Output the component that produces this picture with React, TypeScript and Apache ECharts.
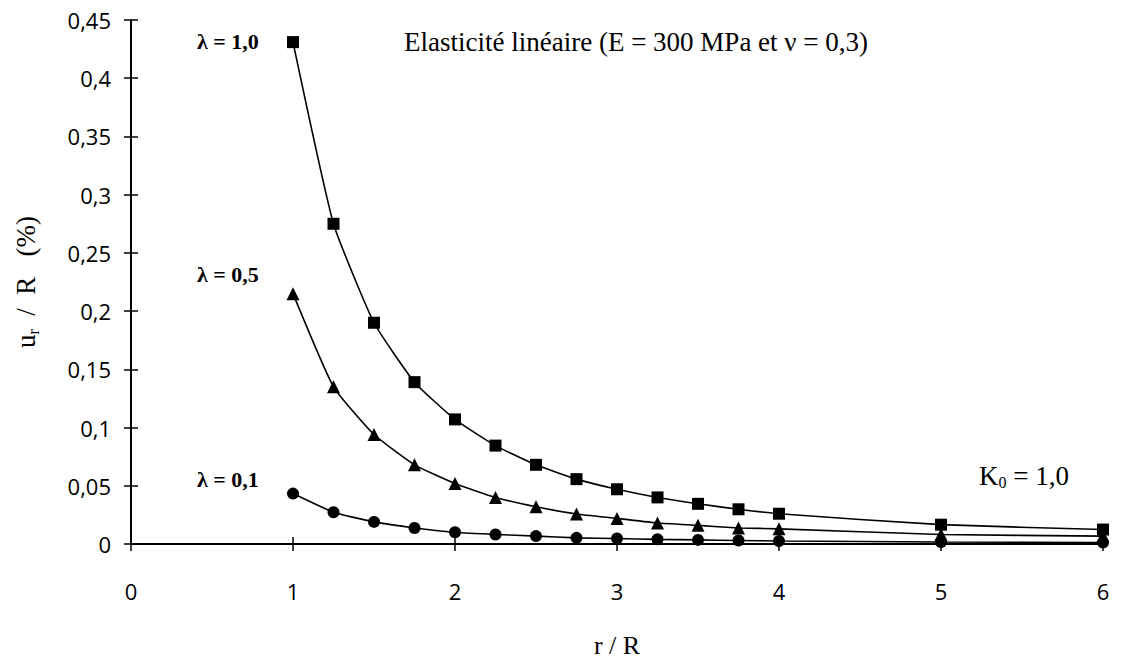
import React, { useEffect, useRef } from "react";
import * as echarts from "echarts";

const rValues = [1, 1.25, 1.5, 1.75, 2, 2.25, 2.5, 2.75, 3, 3.25, 3.5, 3.75, 4, 5, 6];
const lambda10 = [0.431, 0.275, 0.19, 0.139, 0.107, 0.0845, 0.068, 0.0557, 0.047, 0.04, 0.0345, 0.0298, 0.026, 0.0166, 0.0124];
const lambda05 = [0.215, 0.135, 0.094, 0.068, 0.052, 0.04, 0.032, 0.0258, 0.022, 0.018, 0.016, 0.0138, 0.013, 0.0082, 0.0068];
const lambda01 = [0.0433, 0.0273, 0.019, 0.0138, 0.0101, 0.0082, 0.0068, 0.0053, 0.0047, 0.004, 0.0035, 0.003, 0.0026, 0.0017, 0.0012];
const seriesNames = ["λ = 1,0", "λ = 0,5", "λ = 0,1"];
const titleText = "Elasticité linéaire (E = 300 MPa et ν = 0,3)";
const k0Text = "K";
const xAxisName = "r / R";

const serif = "'Liberation Serif', 'DejaVu Serif', serif";
const sans = "'Open Sans', 'DejaVu Sans', sans-serif";

export default function App() {
  const ref = useRef<HTMLDivElement>(null);
  useEffect(() => {
    if (!ref.current) return;
    const chart = echarts.init(ref.current, null, { renderer: "svg" });
    const mk = (arr: number[]) => rValues.map((r, i) => [r, arr[i]]);
    const fmt = (v: number) => String(Math.round(v * 100) / 100).replace(".", ",");
    const common = {
      type: "line",
      smooth: 0.15,
      lineStyle: { color: "#000", width: 1.6 },
      itemStyle: { color: "#000" },
      silent: true,
    };
    const lamStyle = { fontFamily: serif, fontSize: 22, fontWeight: "bold", fill: "#000" };
    chart.setOption({
      animation: false,
      backgroundColor: "#fff",
      grid: { left: 131, right: 18, top: 20, bottom: 110, containLabel: false },
      xAxis: [
        {
          type: "value",
          min: 0,
          max: 6,
          interval: 1,
          name: xAxisName,
          nameLocation: "middle",
          nameGap: 88,
          nameTextStyle: { fontFamily: serif, fontSize: 26, color: "#000" },
          axisLine: { show: true, onZero: false, lineStyle: { color: "#000", width: 2 } },
          axisTick: { show: true, length: 7, lineStyle: { color: "#000", width: 1.5 } },
          axisLabel: { fontFamily: sans, fontSize: 22, color: "#000", margin: 36, formatter: fmt },
          splitLine: { show: false },
        },
        {
          type: "value",
          min: 0,
          max: 6,
          interval: 1,
          position: "bottom",
          axisLine: { show: false },
          axisTick: { show: true, inside: true, length: 7, lineStyle: { color: "#000", width: 1.5 } },
          axisLabel: { show: false },
          splitLine: { show: false },
        },
      ],
      yAxis: [
        {
          type: "value",
          min: 0,
          max: 0.45,
          interval: 0.05,
          name: "{a|u}{s|r}{a|  /  R   (%)}",
          nameLocation: "middle",
          nameGap: 90,
          nameRotate: 90,
          nameTextStyle: {
            color: "#000",
            rich: {
              a: { fontFamily: serif, fontSize: 27, color: "#000" },
              s: { fontFamily: serif, fontSize: 16, color: "#000", verticalAlign: "bottom", padding: [14, 0, 0, 0] },
            },
          },
          axisLine: { show: true, onZero: false, lineStyle: { color: "#000", width: 2 } },
          axisTick: { show: true, length: 7, lineStyle: { color: "#000", width: 1.5 } },
          axisLabel: { fontFamily: sans, fontSize: 22, color: "#000", margin: 20, formatter: fmt },
          splitLine: { show: false },
        },
        {
          type: "value",
          min: 0,
          max: 0.45,
          interval: 0.05,
          position: "left",
          axisLine: { show: false },
          axisTick: { show: true, inside: true, length: 7, lineStyle: { color: "#000", width: 1.5 } },
          axisLabel: { show: false },
          splitLine: { show: false },
        },
      ],
      series: [
        { ...common, name: seriesNames[0], data: mk(lambda10), symbol: "rect", symbolSize: 12 },
        { ...common, name: seriesNames[1], data: mk(lambda05), symbol: "triangle", symbolSize: 13 },
        { ...common, name: seriesNames[2], data: mk(lambda01), symbol: "circle", symbolSize: 12 },
      ],
      graphic: [
        { type: "text", left: 404, top: 28, style: { text: titleText, fontFamily: serif, fontSize: 27, fill: "#000" } },
        { type: "text", left: 197, top: 30, style: { text: seriesNames[0], ...lamStyle } },
        { type: "text", left: 197, top: 263, style: { text: seriesNames[1], ...lamStyle } },
        { type: "text", left: 197, top: 468, style: { text: seriesNames[2], ...lamStyle } },
        {
          type: "text",
          left: 979,
          top: 462,
          style: {
            text: "{a|" + k0Text + "}{s|0}{a| = 1,0}",
            rich: {
              a: { fontFamily: serif, fontSize: 27, fill: "#000" },
              s: { fontFamily: serif, fontSize: 16, fill: "#000", padding: [14, 0, 0, 0] },
            },
          },
        },
      ],
    });
    return () => chart.dispose();
  }, []);
  return <div ref={ref} style={{ width: 1121, height: 663, position: "absolute", left: 0, top: 0 }} />;
}
